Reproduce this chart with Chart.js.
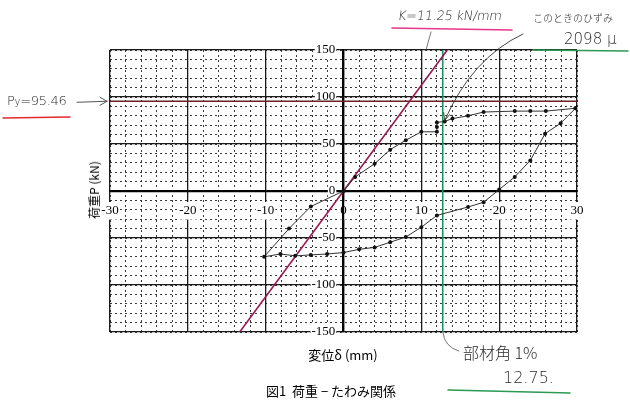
<!DOCTYPE html>
<html>
<head>
<meta charset="utf-8">
<script src="https://cdn.jsdelivr.net/npm/chart.js@4/dist/chart.umd.min.js"></script>
<style>
  html, body { margin: 0; padding: 0; background: #fff; }
  #wrap { position: relative; width: 630px; height: 406px; overflow: hidden; }
  canvas { position: absolute; left: 0; top: 0; }
  .t { position: absolute; white-space: nowrap; line-height: 1; }
  .hand { font-family: "DejaVu Sans", sans-serif; font-weight: 300; color: #2a2a2a; }
  .handj { font-family: "Noto Sans CJK JP", sans-serif; font-weight: 300; color: #2a2a2a; }
  .lab { font-family: "Noto Sans CJK JP", "Liberation Serif", serif; color: #000; }
</style>
</head>
<body>
<div id="wrap">
  <canvas id="c" width="630" height="406"></canvas>
  <div class="t hand" style="left:398px; top:9px; font-size:13px; letter-spacing:-0.3px; transform:skewX(-8deg);">K=11.25 kN/mm</div>
  <div class="t handj" style="left:533px; top:13px; font-size:10px;">このときのひずみ</div>
  <div class="t hand" style="left:564px; top:32px; font-size:15px;">2098 μ</div>
  <div class="t hand" style="left:7px; top:94px; font-size:13px; letter-spacing:-0.3px;">P<span style="font-size:10px;">y</span>=95.46</div>
  <div class="t handj" style="left:463px; top:344px; font-size:16px;">部材角 1%</div>
  <div class="t hand" style="left:503px; top:370px; font-size:16px;">12.75.</div>
  <div class="t lab" style="left:343px; top:354px; font-size:13px; transform:translate(-50%,-50%);">変位δ (mm)</div>
  <div class="t lab" style="left:331px; top:390px; font-size:13px; transform:translate(-50%,-50%);">図1&nbsp;&nbsp;荷重 − たわみ関係</div>
  <div class="t lab" style="left:94px; top:190px; font-size:12px; transform:translate(-50%,-50%) rotate(-90deg); background:#fff;">荷重P (kN)</div>
</div>
<script>
// ---- data ----
const loadX   = [0, 1.5, 4, 6, 8, 10, 12, 12, 12, 13, 14, 16, 18, 22, 24, 26, 29.8];
const loadY   = [0, 15, 29, 44, 54, 63, 63, 68, 73, 74, 77, 80, 84, 85, 85, 85, 88];
const unloadX = [29.8, 27.9, 25.9, 24, 22, 20, 18, 16, 12, 10, 8, 6, 4, 2, 0, -2.1, -4.2, -6.2, -8.1, -10.2];
const unloadY = [88, 72, 61, 32.5, 15, 1.5, -12, -17, -26, -38.5, -49, -54.5, -60, -62, -65.5, -67, -68, -69, -67, -70];
const reloadX = [-10.2, -7, -4.2, 0];
const reloadY = [-70, -40, -16.5, 0];
const stiffnessK = 11.25;   // kN/mm
const yieldLoad = 95.46;    // kN
const driftDisp = 12.75;    // mm (部材角 1%)
const xTicks = [-30, -20, -10, 0, 10, 20, 30];
const yTicks = [-150, -100, -50, 0, 50, 100, 150];

const pts = (xs, ys) => xs.map((x, i) => ({x, y: ys[i]}));

const annot = {
  id: 'annot',
  afterDraw(chart) {
    const ctx = chart.ctx, xs = chart.scales.x, ys = chart.scales.y;
    ctx.save();
    ctx.lineCap = 'round';
    const line = (x1, y1, x2, y2, col, w) => {
      ctx.strokeStyle = col; ctx.lineWidth = w;
      ctx.beginPath(); ctx.moveTo(x1, y1); ctx.lineTo(x2, y2); ctx.stroke();
    };
    line(392, 28, 512, 30, '#e8368c', 1.6);
    line(431, 32, 426, 50, '#555', 0.8);
    line(533, 50, 628, 51, '#2b9a55', 1.4);
    line(3, 118, 70, 117, '#e42a2a', 1.4);
    const py = ys.getPixelForValue(yieldLoad);
    line(77, py + 1, 107, py, '#555', 1);
    line(107, py, 100, py - 4, '#555', 1);
    line(107, py, 100, py + 4, '#555', 1);
    const ex = xs.getPixelForValue(13), ey = ys.getPixelForValue(75);
    ctx.strokeStyle = '#333'; ctx.lineWidth = 0.9;
    ctx.beginPath(); ctx.moveTo(523, 34);
    ctx.quadraticCurveTo(472, 58, ex, ey); ctx.stroke();
    line(ex, ey, ex - 1, ey - 8, '#333', 0.9);
    line(ex, ey, ex + 5, ey - 6, '#333', 0.9);
    const gx = xs.getPixelForValue(driftDisp), gy = ys.getPixelForValue(-150);
    ctx.strokeStyle = '#555'; ctx.lineWidth = 0.8;
    ctx.beginPath(); ctx.moveTo(gx, gy); ctx.quadraticCurveTo(gx + 2, gy + 15, gx + 16, gy + 19); ctx.stroke();
    line(448, 390, 570, 393, '#2b9a55', 1.4);
    ctx.restore();
  }
};

const minorGrid = (axis, step, pos) => ({
  type: 'linear', axis, position: pos,
  min: axis === 'x' ? -30 : -150, max: axis === 'x' ? 30 : 150,
  ticks: { display: false, stepSize: step },
  grid: { color: '#3a3a3a', lineWidth: 1, drawTicks: false, z: -1 },
  border: { display: false, dash: [2, 3] }
});

new Chart(document.getElementById('c'), {
  type: 'scatter',
  data: {
    datasets: [
      { data: pts(loadX, loadY), showLine: true, borderColor: '#333', borderWidth: 1,
        pointRadius: 2, pointBackgroundColor: '#111', pointBorderWidth: 0, order: 1 },
      { data: pts(unloadX, unloadY).concat(pts(reloadX, reloadY).slice(1)), showLine: true,
        borderColor: '#333', borderWidth: 1, pointRadius: 2, pointBackgroundColor: '#111', pointBorderWidth: 0, order: 1 },
      { data: [{x: -150 / stiffnessK, y: -150}, {x: 150 / stiffnessK, y: 150}], showLine: true,
        borderColor: '#9a1850', borderWidth: 1.6, pointRadius: 0, order: 2 },
      { data: [{x: -30, y: yieldLoad}, {x: 30.6, y: yieldLoad}], showLine: true,
        borderColor: '#6a2226', borderWidth: 1.6, pointRadius: 0, order: 2 },
      { data: [{x: driftDisp, y: -150}, {x: driftDisp, y: 150}], showLine: true,
        borderColor: '#1f8f5f', borderWidth: 1.6, pointRadius: 0, order: 2 }
    ]
  },
  options: {
    responsive: false,
    devicePixelRatio: 1,
    animation: false,
    layout: { padding: { left: 110, right: 53, top: 50, bottom: 74 } },
    plugins: { legend: { display: false }, tooltip: { enabled: false } },
    elements: { line: { tension: 0 } },
    scales: {
      xm: minorGrid('x', 2, { y: 0 }),
      ym: minorGrid('y', 10, { x: 0 }),
      x: {
        type: 'linear', position: { y: 0 }, min: -30, max: 30,
        afterBuildTicks: s => { s.ticks = xTicks.map(v => ({ value: v })); },
        ticks: { padding: 12, color: '#000', font: { family: 'Liberation Serif', size: 13 },
                 showLabelBackdrop: true, backdropColor: '#fff', backdropPadding: 1 },
        grid: { color: '#1a1a1a', lineWidth: 1.3, drawTicks: false },
        border: { color: '#000', width: 2.2 }
      },
      y: {
        type: 'linear', position: { x: 0 }, min: -150, max: 150,
        afterBuildTicks: s => { s.ticks = yTicks.map(v => ({ value: v })); },
        ticks: { display: false },
        grid: { color: '#1a1a1a', lineWidth: 1.3, drawTicks: false },
        border: { color: '#000', width: 2.2 }
      },
      yl: {
        type: 'linear', axis: 'y', position: { x: -1.05 }, min: -150, max: 150,
        afterBuildTicks: s => { s.ticks = yTicks.map(v => ({ value: v })); },
        ticks: { color: '#000', font: { family: 'Liberation Serif', size: 13 },
                 showLabelBackdrop: true, backdropColor: '#fff', backdropPadding: 1 },
        grid: { display: false, drawTicks: false },
        border: { display: false }
      }
    }
  },
  plugins: [annot]
});
</script>
</body>
</html>
